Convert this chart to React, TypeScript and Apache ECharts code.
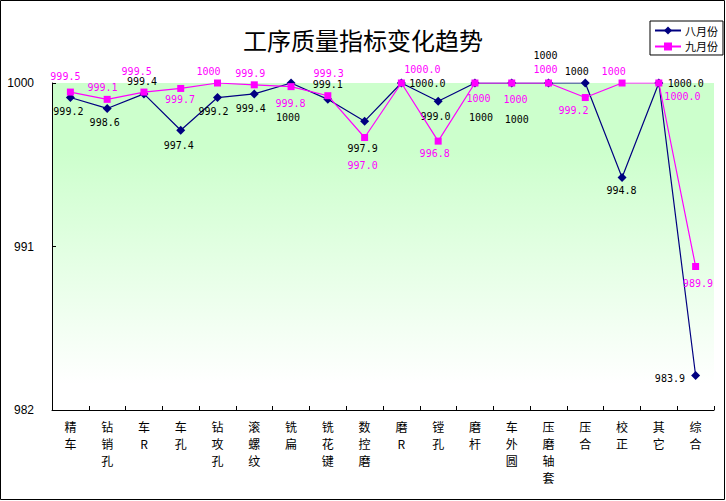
import React, { useEffect, useRef } from "react";
import * as echarts from "echarts";

const categories = [
  "精车", "钻销孔", "车R", "车孔", "钻攻孔", "滚螺纹", "铣扁", "铣花键", "数控磨",
  "磨R", "镗孔", "磨杆", "车外圆", "压磨轴套", "压合", "校正", "其它", "综合",
];

const augValues = [
  999.2, 998.6, 999.4, 997.4, 999.2, 999.4, 1000, 999.1, 997.9,
  1000.0, 999.0, 1000, 1000, 1000, 1000, 994.8, 1000.0, 983.9,
];
const sepValues = [
  999.5, 999.1, 999.5, 999.7, 1000, 999.9, 999.8, 999.3, 997.0,
  1000.0, 996.8, 1000, 1000, 1000, 999.2, 1000, 1000.0, 989.9,
];

const augLabels = [
  "999.2", "998.6", "999.4", "997.4", "999.2", "999.4", "1000", "999.1", "997.9",
  "1000.0", "999.0", "1000", "1000", "1000", "1000", "994.8", "1000.0", "983.9",
];
const sepLabels = [
  "999.5", "999.1", "999.5", "999.7", "1000", "999.9", "999.8", "999.3", "997.0",
  "1000.0", "996.8", "1000", "1000", "1000", "999.2", "1000", "1000.0", "989.9",
];

const yTicks = [982, 991, 1000];

// label placement offsets (layout only)
const augLabelOffsets: number[][] = [
  [-2, 13.5], [-2.5, 14], [-2, -12], [-2, 15], [-4, 14], [-3.5, 14.5], [-3, 34.7], [0, -14.4], [-2, 27.5],
  [26, 0], [-2.7, 15], [6, 34], [5, 36], [-3, -28], [-8.5, -12], [-0.6, 13.5], [27, 0], [-25.7, 3],
];
const sepLabelOffsets: number[][] = [
  [-5, -15.4], [-4.7, -12], [-7.3, -20.4], [-0.7, 11.5], [-9, -11.3], [-4, -11.5], [-0.5, 16.7], [0.8, -22.4], [-2, 28],
  [21, -13.7], [-3.5, 12.2], [3.5, 15.3], [3.7, 16.3], [-3, -13.7], [-11.7, 13.2], [-8.4, -11.3], [23.6, 13.7], [2.3, 17.5],
];

const monoFont = "'DejaVu Sans Mono', 'Liberation Mono', monospace";
const cjkFont = "'Noto Sans CJK SC', 'Noto Sans', sans-serif";

export default function App() {
  const ref = useRef<HTMLDivElement>(null);
  useEffect(() => {
    if (!ref.current) return;
    const chart = echarts.init(ref.current, null, { renderer: "svg" });
    chart.setOption({
      animation: false,
      backgroundColor: "#ffffff",
      title: {
        text: "工序质量指标变化趋势",
        left: "center",
        top: 22,
        textStyle: { fontSize: 24, fontWeight: "normal", color: "#000", fontFamily: cjkFont },
      },
      legend: {
        orient: "vertical",
        left: 650,
        top: 21,
        padding: [4, 5, 3, 4],
        itemGap: 5,
        itemWidth: 26,
        itemHeight: 10,
        borderColor: "#000",
        borderWidth: 1,
        borderRadius: 0,
        backgroundColor: "#fff",
        textStyle: { fontSize: 11, color: "#000", fontFamily: cjkFont, padding: [0, 0, 0, -1] },
        data: ["八月份", "九月份"],
      },
      graphic: [
        {
          type: "rect",
          shape: { x: 0.5, y: 0.5, width: 724, height: 499 },
          style: { fill: "none", stroke: "#000", lineWidth: 1 },
          silent: true,
          z: 100,
        },
      ],
      grid: {
        left: 52,
        right: 12,
        top: 83,
        bottom: 91,
        show: true,
        borderWidth: 0,
        backgroundColor: {
          type: "linear",
          x: 0, y: 0, x2: 0, y2: 1,
          colorStops: [
            { offset: 0, color: "#ccffcc" },
            { offset: 0.2, color: "#ccffcc" },
            { offset: 0.92, color: "#ffffff" },
            { offset: 1, color: "#ffffff" },
          ],
        },
      },
      xAxis: {
        type: "category",
        data: categories,
        boundaryGap: true,
        axisLine: { show: true, lineStyle: { color: "#000", width: 1 } },
        axisTick: { show: true, inside: true, length: 4, alignWithLabel: false, lineStyle: { color: "#000" } },
        axisLabel: {
          interval: 0,
          margin: 8,
          fontSize: 12,
          lineHeight: 17,
          color: "#000",
          fontFamily: cjkFont,
          formatter: (v: string) => v.split("").join("\n"),
        },
        splitLine: { show: false },
      },
      yAxis: {
        type: "value",
        min: 982,
        max: 1000,
        axisLine: { show: true, lineStyle: { color: "#000", width: 1 } },
        axisTick: { show: true, inside: true, length: 4, customValues: yTicks, lineStyle: { color: "#000" } },
        axisLabel: {
          customValues: yTicks,
          margin: 18,
          fontSize: 12,
          color: "#000",
          fontFamily: "'Liberation Sans', Arial, sans-serif",
          formatter: (v: number) => String(v),
        },
        splitLine: { show: false },
      },
      series: [
        {
          name: "八月份",
          type: "line",
          symbol: "diamond",
          symbolSize: 9,
          itemStyle: { color: "#000080" },
          lineStyle: { color: "#000080", width: 1.2 },
          label: { show: true, position: "inside", color: "#000", fontSize: 10, fontFamily: monoFont },
          data: augValues.map((v, i) => ({
            value: v,
            label: { formatter: augLabels[i], offset: augLabelOffsets[i] },
          })),
          z: 2,
        },
        {
          name: "九月份",
          type: "line",
          symbol: "rect",
          symbolSize: 7,
          itemStyle: { color: "#ff00ff" },
          lineStyle: { color: "#ff00ff", width: 1.2 },
          label: { show: true, position: "inside", color: "#ff00ff", fontSize: 10, fontFamily: monoFont },
          data: sepValues.map((v, i) => ({
            value: v,
            label: { formatter: sepLabels[i], offset: sepLabelOffsets[i] },
          })),
          z: 3,
        },
      ],
    });
    return () => chart.dispose();
  }, []);
  return (
    <div
      ref={ref}
      style={{ position: "absolute", left: 0, top: 0, width: 726, height: 501 }}
    />
  );
}
